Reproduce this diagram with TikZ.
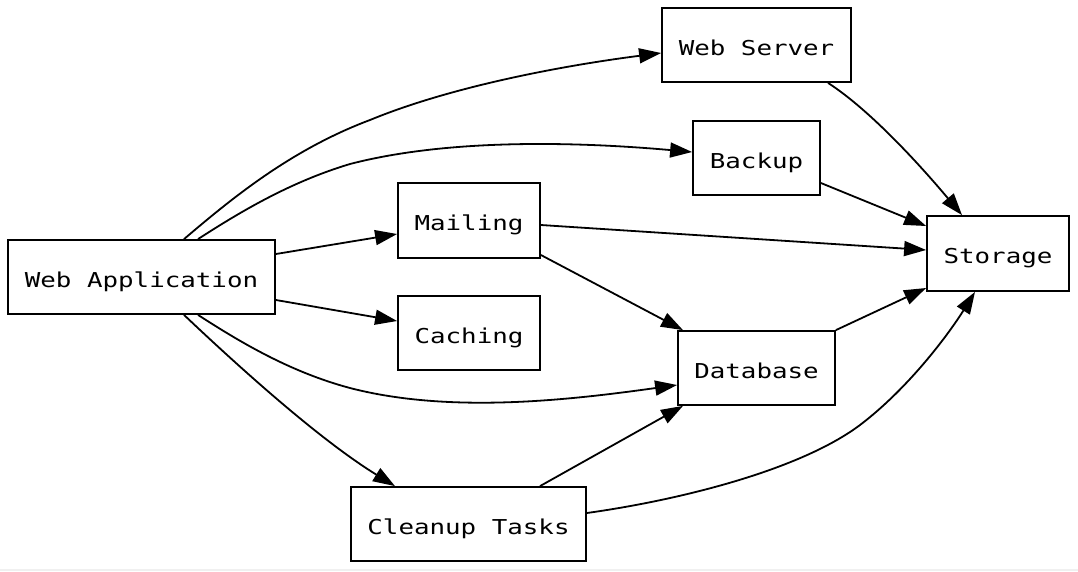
\documentclass[tikz,border=0pt]{standalone}
\usepackage{fontspec}
\newfontfamily\monof[FakeStretch=1.26]{DejaVu Sans Mono}
\usetikzlibrary{arrows.meta}
\tikzset{
  box/.style={draw, line width=1.8pt, rectangle, inner sep=0pt, text height=20.6pt, text depth=0pt,
    font=\monof\fontsize{20.5}{24}\selectfont},
  edge/.style={line width=1.8pt, -{Triangle[length=22pt,width=15pt]}}
}
\begin{document}
\begin{tikzpicture}[x=1pt,y=-1pt]
\useasboundingbox (0,0) rectangle (1078,571);
\fill[gray!12] (0,569) rectangle (1078,571);
\node[box, minimum width=267pt, minimum height=74pt] (wa) at (141.5,277) {Web Application};
\node[box, minimum width=142pt, minimum height=75pt] (ml) at (469,220.5) {Mailing};
\node[box, minimum width=142pt, minimum height=74pt] (ca) at (469,333) {Caching};
\node[box, minimum width=189pt, minimum height=74pt] (ws) at (756.5,45) {Web Server};
\node[box, minimum width=127pt, minimum height=74pt] (bk) at (756.5,158) {Backup};
\node[box, minimum width=142pt, minimum height=75pt] (st) at (998,253.5) {Storage};
\node[box, minimum width=157pt, minimum height=74pt] (db) at (756.5,368) {Database};
\node[box, minimum width=235pt, minimum height=74pt] (ct) at (468.5,524) {Cleanup Tasks};

% Web Application edges
\draw[edge] ([xshift=42.5pt]wa.north) .. controls (230,200) and (290,150) .. (370,120)
  .. controls (450,87) and (560,66) .. ([yshift=-8pt]ws.west);
\draw[edge] ([xshift=56.5pt]wa.north) .. controls (240,212) and (290,182) .. (350,164)
  .. controls (450,138) and (580,142) .. ([yshift=6pt]bk.west);
\draw[edge] ([yshift=23pt]wa.east) -- ([yshift=-13.5pt]ml.west);
\draw[edge] ([yshift=-23pt]wa.east) -- ([yshift=12pt]ca.west);
\draw[edge] ([xshift=56.5pt]wa.south) .. controls (240,342) and (290,372) .. (350,388)
  .. controls (450,414) and (570,400) .. ([yshift=-17pt]db.west);
\draw[edge] ([xshift=42.5pt]wa.south) .. controls (240,368) and (320,440) .. ([xshift=-73.5pt]ct.north);

% Others
\draw[edge] ([xshift=71.5pt]ws.south) .. controls (870,110) and (920,165) .. ([xshift=-36pt]st.north);
\draw[edge] ([yshift=-25pt]bk.east) -- ([yshift=27.5pt]st.west);
\draw[edge] ([yshift=-4.5pt]ml.east) -- ([yshift=3.5pt]st.west);
\draw[edge] ([yshift=-34.5pt]ml.east) -- ([xshift=-73.5pt]db.north);
\draw[edge] (db.north east) -- ([yshift=-34.5pt]st.west);
\draw[edge] ([xshift=71.5pt]ct.north) -- ([xshift=-73.5pt]db.south);
\draw[edge] ([yshift=11pt]ct.east) .. controls (680,500) and (800,470) .. (860,425)
  .. controls (910,387) and (950,332) .. ([xshift=-23pt]st.south);
\end{tikzpicture}
\end{document}
